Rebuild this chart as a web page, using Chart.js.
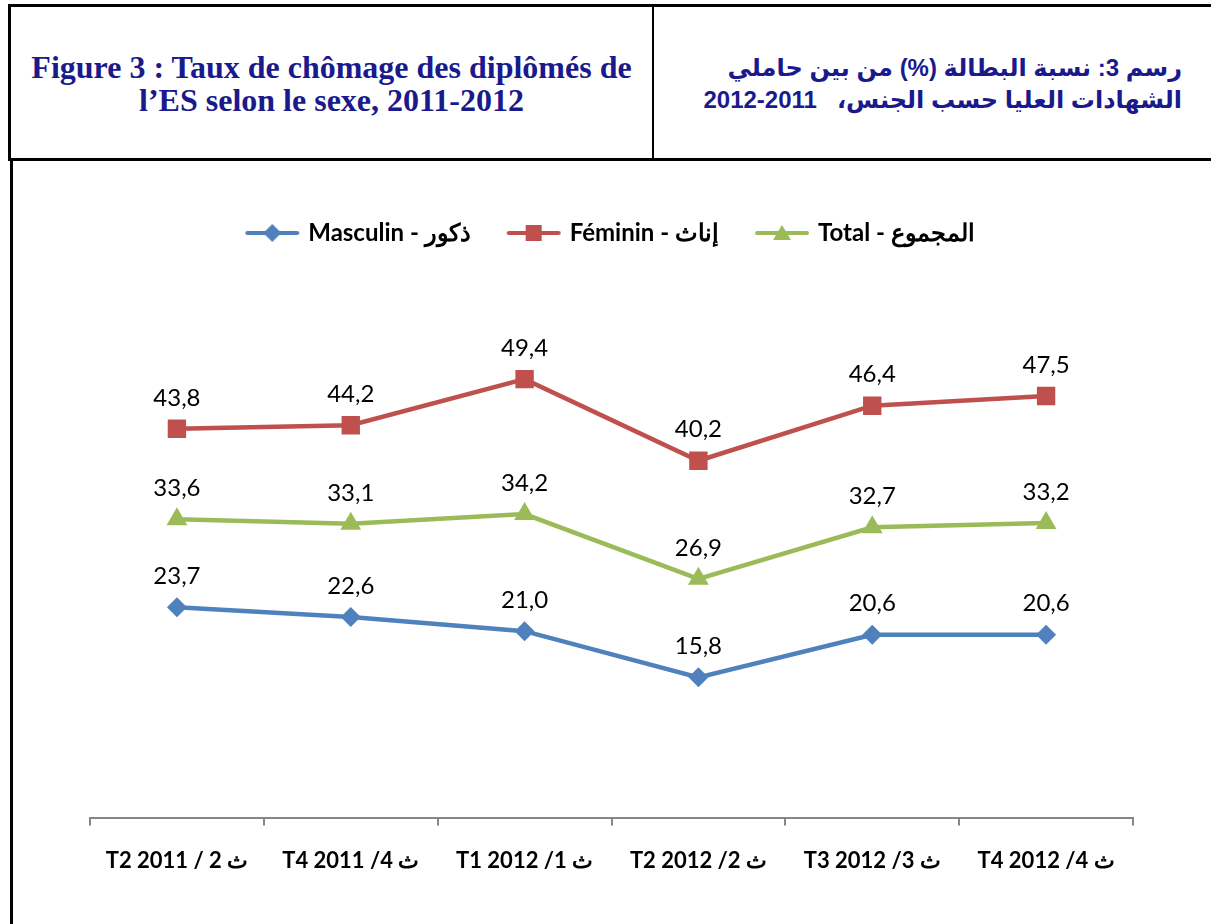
<!DOCTYPE html>
<html>
<head>
<meta charset="utf-8">
<script src="https://cdn.jsdelivr.net/npm/chart.js@4"></script>
<style>
  body { margin: 0; background: #fff; width: 1211px; height: 924px; overflow: hidden; position: relative; }
  .hdr { position: absolute; left: 8px; top: 4px; width: 1210px; height: 151px; border: 3px solid #000; border-right: none; }
  .cellL { position: absolute; left: 0; top: 0; width: 641px; height: 151px; border-right: 2px solid #000; }
  .titleL { position: absolute; left: 0; width: 641px; top: 44px; text-align: center; font-family: "Liberation Serif", serif; font-weight: bold; font-size: 32px; line-height: 33px; color: #1a1a8c; }
  .titleR { position: absolute; right: 39px; top: 45px; width: 560px; text-align: right; direction: rtl; font-family: "Liberation Sans", "DejaVu Sans", sans-serif; font-weight: bold; font-size: 24px; line-height: 32px; color: #1a1a8c; }
  .box { position: absolute; left: 10px; top: 158px; width: 1201px; height: 770px; border-left: 3px solid #000; }
  #wrap { position: absolute; left: 0; top: 160px; width: 1211px; height: 764px; }
</style>
</head>
<body>
<div class="hdr">
  <div class="cellL"><div class="titleL">Figure 3 : Taux de chômage des diplômés de<br>l’ES selon le sexe, 2011-2012</div></div>
  <div class="titleR">رسم 3: نسبة البطالة (%) من بين حاملي<br>الشهادات العليا حسب الجنس،&nbsp;&nbsp; 2011-2012</div>
</div>
<div class="box"></div>
<div id="wrap"><canvas id="myChart"></canvas></div>
<script>
var categories = ['T2 2011 / 2 ث', 'T4 2011 /4 ث', 'T1 2012 /1 ث', 'T2 2012 /2 ث', 'T3 2012 /3 ث', 'T4 2012 /4 ث'];
var seriesNames = ['Masculin - ذكور', 'Féminin - إناث', 'Total - المجموع'];
var masculin = [23.7, 22.6, 21.0, 15.8, 20.6, 20.6];
var feminin = [43.8, 44.2, 49.4, 40.2, 46.4, 47.5];
var total = [33.6, 33.1, 34.2, 26.9, 32.7, 33.2];
var colors = ['#4F81BD', '#C0504D', '#9BBB59'];
var markers = ['rectRot', 'rect', 'triangle'];
var markerSizes = [10, 13, 12];

// small legend swatch: line with the marker on it
function swatch(color, style) {
    var c = document.createElement('canvas');
    c.width = 56; c.height = 22;
    var g = c.getContext('2d');
    g.strokeStyle = color; g.lineWidth = 4; g.lineCap = 'round';
    g.beginPath(); g.moveTo(3, 11); g.lineTo(53, 11); g.stroke();
    g.fillStyle = color;
    g.beginPath();
    if (style === 'rectRot') { g.moveTo(28, 2); g.lineTo(37, 11); g.lineTo(28, 20); g.lineTo(19, 11); }
    else if (style === 'rect') { g.rect(20, 3, 16, 16); }
    else { g.moveTo(28, 3); g.lineTo(37, 18); g.lineTo(19, 18); }
    g.closePath(); g.fill();
    return c;
}

var valueLabels = {
    id: 'valueLabels',
    afterDatasetsDraw: function(chart) {
        var ctx = chart.ctx;
        ctx.save();
        ctx.font = '24px Lato, "Open Sans", sans-serif';
        ctx.fillStyle = '#000';
        ctx.textAlign = 'center';
        ctx.textBaseline = 'middle';
        chart.data.datasets.forEach(function(ds, i) {
            chart.getDatasetMeta(i).data.forEach(function(pt, j) {
                ctx.fillText(ds.data[j].toFixed(1).replace('.', ','), pt.x, pt.y - 31);
            });
        });
        ctx.restore();
    }
};

var legendGap = {
    id: 'legendGap',
    beforeInit: function(chart) {
        var fit = chart.legend.fit;
        chart.legend.fit = function() { fit.call(this); this.height += 30; };
    }
};

var ctx = document.getElementById('myChart').getContext('2d');
var myChart = new Chart(ctx, {
    type: 'line',
    data: {
        labels: categories,
        datasets: [masculin, feminin, total].map(function(d, i) {
            return {
                label: seriesNames[i],
                data: d,
                borderColor: colors[i],
                backgroundColor: colors[i],
                borderWidth: 4.5,
                pointStyle: markers[i],
                pointRadius: markerSizes[i],
                pointHoverRadius: markerSizes[i],
                pointBorderWidth: 0,
                tension: 0
            };
        })
    },
    options: {
        responsive: true,
        maintainAspectRatio: false,
        animation: false,
        layout: { padding: { top: 22, left: 90, right: 78, bottom: 28 } },
        plugins: {
            legend: {
                position: 'top',
                labels: {
                    usePointStyle: true,
                    pointStyleWidth: 48,
                    padding: 39,
                    color: '#000',
                    font: { family: 'Lato, "Open Sans", sans-serif', size: 24, weight: 'bold' },
                    generateLabels: function(chart) {
                        return chart.data.datasets.map(function(ds, i) {
                            return { text: ds.label, pointStyle: swatch(colors[i], markers[i]), fillStyle: colors[i], strokeStyle: colors[i], lineWidth: 0, datasetIndex: i, fontColor: '#000' };
                        });
                    }
                }
            },
            tooltip: { enabled: false }
        },
        scales: {
            y: { display: false, min: 0, max: 60 },
            x: {
                offset: true,
                border: { color: '#868686', width: 2 },
                grid: { offset: true, drawOnChartArea: false, color: '#868686', tickLength: 8, lineWidth: 2 },
                ticks: { color: '#000', padding: 22, font: { family: 'Lato, "Open Sans", sans-serif', size: 22, weight: 'bold' } }
            }
        }
    },
    plugins: [valueLabels, legendGap]
});
</script>
</body>
</html>
